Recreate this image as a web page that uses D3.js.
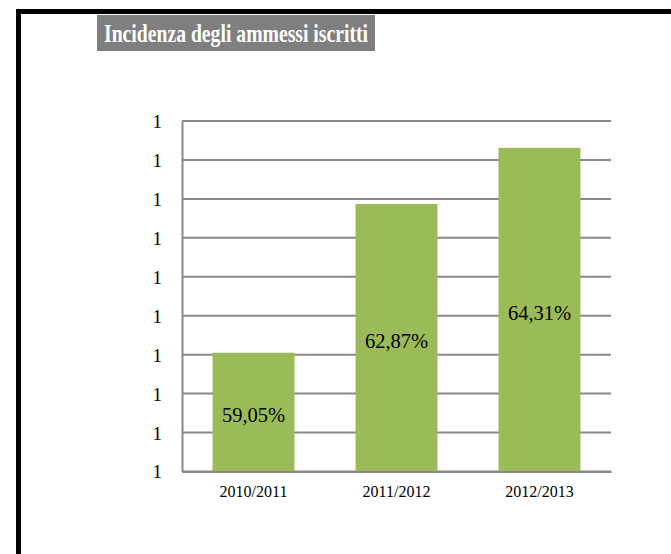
<!DOCTYPE html>
<html><head><meta charset="utf-8">
<script src="https://cdn.jsdelivr.net/npm/d3@7"></script>
<style>html,body{margin:0;padding:0;background:#fff;}svg{display:block;}</style>
</head><body>
<script>
const categories = ["2010/2011", "2011/2012", "2012/2013"];
const values = [0.5905, 0.6287, 0.6431];
const yTicks = [0.56, 0.57, 0.58, 0.59, 0.60, 0.61, 0.62, 0.63, 0.64, 0.65];
const title = "Incidenza degli ammessi iscritti";

(function () {
const W = 671, H = 554;
const svg = d3.select("body").append("svg").attr("width", W).attr("height", H);
const serif = "Liberation Serif, DejaVu Serif, serif";

// frame
svg.append("rect").attr("x", 0).attr("y", 0).attr("width", W).attr("height", H).attr("fill", "#fff");
svg.append("line").attr("x1", 16).attr("x2", W).attr("y1", 11.5).attr("y2", 11.5).attr("stroke", "#000").attr("stroke-width", 5);
svg.append("line").attr("x1", 18.5).attr("x2", 18.5).attr("y1", 9).attr("y2", H).attr("stroke", "#000").attr("stroke-width", 5);

// title
svg.append("rect").attr("x", 97).attr("y", 15).attr("width", 278).attr("height", 36).attr("fill", "#7f7f7f");
svg.append("text").attr("x", 104).attr("y", 42).attr("fill", "#fff")
  .style("font-family", serif).attr("font-weight", "bold").attr("font-size", 25)
  .attr("textLength", 264).attr("lengthAdjust", "spacingAndGlyphs").text(title);

const pLeft = 182, pRight = 611, pTop = 121, pBottom = 471.5;
const x = d3.scaleBand().domain(categories).range([pLeft, pRight]).paddingInner(0.427).paddingOuter(0.2135);
const y = d3.scaleLinear().domain([yTicks[0], yTicks[yTicks.length - 1]]).range([pBottom, pTop]);

// gridlines
svg.append("g").selectAll("line").data(yTicks).join("line")
  .attr("x1", pLeft).attr("x2", pRight)
  .attr("y1", d => y(d)).attr("y2", d => y(d))
  .attr("stroke", "#888").attr("stroke-width", 2);

// y axis
const yAxis = d3.axisLeft(y).tickValues(yTicks).tickFormat(d3.format(".0f")).tickSize(0).tickPadding(20);
const gy = svg.append("g").attr("transform", `translate(${pLeft},0)`).call(yAxis);
gy.attr("font-family", null).attr("font-size", null);
gy.select(".domain").attr("stroke", "#888").attr("stroke-width", 2);
gy.selectAll("text").style("font-family", serif).attr("font-size", 19).attr("fill", "#000").attr("dy", "0.34em");

// bars
svg.append("g").selectAll("rect").data(values).join("rect")
  .attr("x", (d, i) => x(categories[i]))
  .attr("y", d => y(d))
  .attr("width", x.bandwidth())
  .attr("height", d => pBottom - y(d))
  .attr("fill", "#9bbb59");

// x axis
const xAxis = d3.axisBottom(x).tickSize(0).tickPadding(14);
const gx = svg.append("g").attr("transform", `translate(0,${pBottom})`).call(xAxis);
gx.attr("font-family", null).attr("font-size", null);
gx.select(".domain").attr("stroke", "#888").attr("stroke-width", 2);
gx.selectAll("text").style("font-family", serif).attr("font-size", 16).attr("fill", "#000");

// value labels
const it = d3.formatLocale({decimal: ",", thousands: ".", grouping: [3], currency: ["", "€"]});
const pct = it.format(".2%");
svg.append("g").selectAll("text").data(values).join("text")
  .attr("x", (d, i) => x(categories[i]) + x.bandwidth() / 2)
  .attr("y", d => (y(d) + pBottom) / 2 + 3)
  .attr("dy", "0.35em")
  .attr("text-anchor", "middle")
  .style("font-family", serif).attr("font-size", 20.5).attr("fill", "#000")
  .text(d => pct(d));
})();
</script>
</body></html>
